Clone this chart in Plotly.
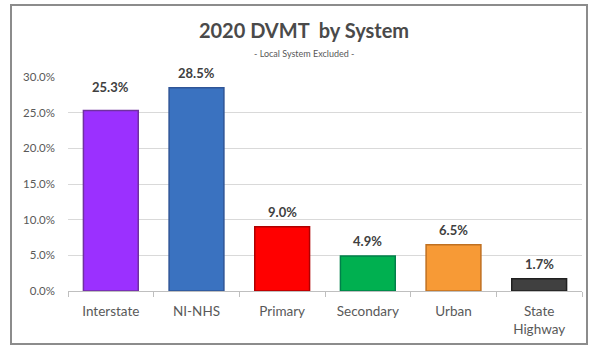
import plotly.graph_objects as go

categories = ["Interstate", "NI-NHS", "Primary", "Secondary", "Urban", "State<br>Highway"]
values = [25.3, 28.5, 9.0, 4.9, 6.5, 1.7]
value_labels = ["25.3%", "28.5%", "9.0%", "4.9%", "6.5%", "1.7%"]
fill_colors = ["#9B30FF", "#3A72C0", "#FF0000", "#00B050", "#F79A36", "#404040"]
line_colors = ["#7030A0", "#2F5597", "#B00000", "#00804A", "#C07020", "#202020"]
label_shifts = [24, 15, 15, 15, 15, 15]
y_ticks = [0, 5, 10, 15, 20, 25, 30]
y_tick_text = ["0.0%", "5.0%", "10.0%", "15.0%", "20.0%", "25.0%", "30.0%"]

FONT = "Lato"

fig = go.Figure()
fig.add_trace(go.Bar(
    x=categories, y=values,
    marker=dict(color=fill_colors, line=dict(color=line_colors, width=1.5)),
    hoverinfo="skip",
))

for c, v, t, s in zip(categories, values, value_labels, label_shifts):
    fig.add_annotation(x=c, y=v, text="<b>%s</b>" % t, showarrow=False,
                       yanchor="middle", yshift=s,
                       font=dict(family=FONT, size=13, color="#404040"))

fig.add_annotation(xref="paper", yref="paper", x=(304 - 68) / 514, y=(291 - 53) / 214,
                   text="- Local System Excluded -", showarrow=False,
                   xanchor="center", yanchor="middle",
                   font=dict(family=FONT, size=9, color="#595959"))

# outer frame
fig.add_shape(type="rect", xref="paper", yref="paper",
              x0=(11 - 68) / 514, x1=(587 - 68) / 514,
              y0=(291 - 344) / 214, y1=(291 - 5) / 214,
              line=dict(color="#8C8C8C", width=2), fillcolor="rgba(0,0,0,0)", layer="below")

fig.update_layout(
    width=589, height=348,
    margin=dict(l=68, r=7, t=77, b=57),
    paper_bgcolor="white", plot_bgcolor="white",
    bargap=0.36,
    showlegend=False,
    title=dict(text="<b>2020 DVMT  by System</b>", xref="container", x=304 / 589, xanchor="center",
               yref="container", y=1 - 31 / 348, yanchor="middle",
               font=dict(family=FONT, size=20, color="#4A4A4A")),
    font=dict(family=FONT, color="#595959"),
)
fig.update_xaxes(
    showline=True, linecolor="#BFBFBF", linewidth=1,
    ticks="outside", tickson="boundaries", ticklen=5, tickcolor="#BFBFBF",
    ticklabelstandoff=8,
    tickfont=dict(family=FONT, size=13.5, color="#595959"),
    showgrid=False,
)
fig.update_yaxes(
    range=[0, 30], tickvals=y_ticks, ticktext=y_tick_text,
    showgrid=True, gridcolor="#D9D9D9", gridwidth=1,
    showline=False, zeroline=False, ticks="",
    ticklabelstandoff=12,
    tickfont=dict(family=FONT, size=11.5, color="#595959"),
)

fig.write_html("out.html", config={"displayModeBar": False},
               post_script="document.body.style.margin='0';document.body.style.overflow='hidden';")
